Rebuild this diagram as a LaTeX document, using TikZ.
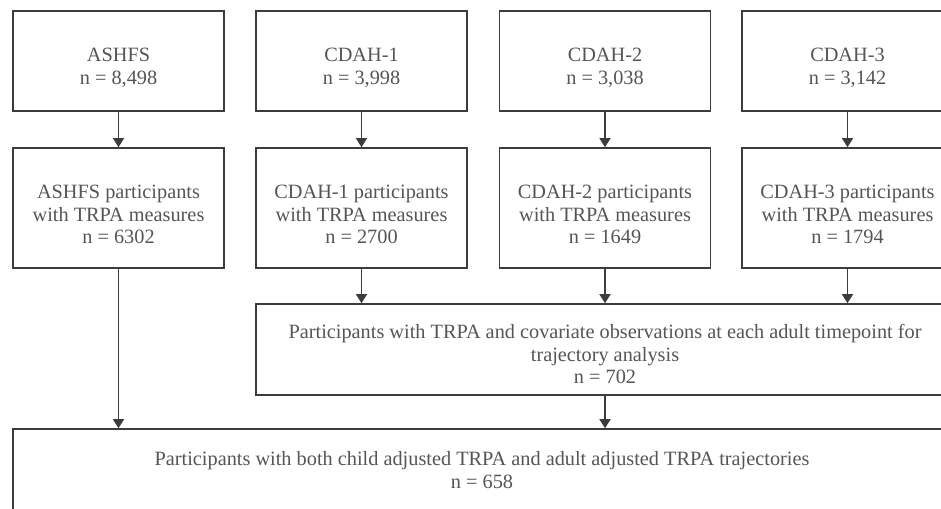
\documentclass[tikz,border=0pt]{standalone}
\usepackage{fontspec}
\setmainfont{Liberation Serif}
\usepackage{xcolor}
\usetikzlibrary{arrows.meta,positioning,calc}
\definecolor{flowline}{RGB}{60,60,60}
\definecolor{flowtext}{RGB}{85,85,85}
\newcommand{\toppad}{\rule{0pt}{27pt}}

\begin{document}
\begin{tikzpicture}[
  x=1pt, y=-1pt,
  every node/.style={font=\fontsize{20.3}{22.5}\selectfont, text=flowtext},
  cohortnode/.style={rectangle, draw=flowline, line width=1.6pt, minimum width=211pt,
    minimum height=100pt, align=center, inner sep=0pt},
  measurenode/.style={cohortnode, minimum height=120pt},
  widenode/.style={rectangle, draw=flowline, line width=1.6pt, align=center, inner sep=0pt},
  arr/.style={-{Triangle[length=9pt,width=11pt]}, line width=1.5pt, draw=flowline},
]
  \useasboundingbox (0,0) rectangle (941,508);
  \clip (0,0) rectangle (941,508);

  % Nodes
  \node[cohortnode] (ashfs) at (118.5,61) {\toppad ASHFS\\n = 8,498};
  \node[cohortnode] (cdah1) at (361.5,61) {\toppad CDAH-1\\n = 3,998};
  \node[cohortnode] (cdah2) at (605,61) {\toppad CDAH-2\\n = 3,038};
  \node[cohortnode] (cdah3) at (847.5,61) {\toppad CDAH-3\\n = 3,142};

  \node[measurenode] (ashfsm) at (118.5,208) {\toppad ASHFS participants\\with TRPA measures\\n = 6302};
  \node[measurenode] (cdah1m) at (361.5,208) {\toppad CDAH-1 participants\\with TRPA measures\\n = 2700};
  \node[measurenode] (cdah2m) at (605,208) {\toppad CDAH-2 participants\\with TRPA measures\\n = 1649};
  \node[measurenode] (cdah3m) at (847.5,208) {\toppad CDAH-3 participants\\with TRPA measures\\n = 1794};

  \node[widenode, minimum width=698pt, minimum height=91pt] (adult) at (605,349.5)
    {\rule{0pt}{24pt}Participants with TRPA and covariate observations at each adult timepoint for\\trajectory analysis\\n = 702};
  \node[widenode, minimum width=938pt, minimum height=82pt] (both) at (482,470)
    {Participants with both child adjusted TRPA and adult adjusted TRPA trajectories\\n = 658};

  % Edges
  \draw[arr] (ashfs) -- (ashfsm);
  \draw[arr] (cdah1) -- (cdah1m);
  \draw[arr] (cdah2) -- (cdah2m);
  \draw[arr] (cdah3) -- (cdah3m);
  \draw[arr] (cdah1m.south) -- (cdah1m.south |- adult.north);
  \draw[arr] (cdah2m.south) -- (cdah2m.south |- adult.north);
  \draw[arr] (cdah3m.south) -- (cdah3m.south |- adult.north);
  \draw[arr] (ashfsm.south) -- (ashfsm.south |- both.north);
  \draw[arr] (adult.south) -- (adult.south |- both.north);
\end{tikzpicture}
\end{document}
